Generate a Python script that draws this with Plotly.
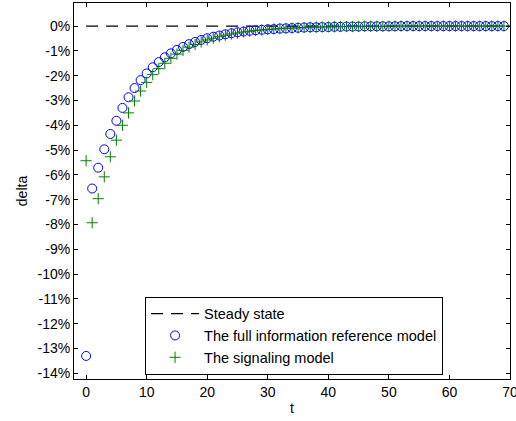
import plotly.graph_objects as go

t = list(range(70))

full_info = [-13.30, -6.55, -5.71, -4.97, -4.35, -3.82, -3.30, -2.87, -2.50, -2.18,
             -1.91, -1.66, -1.45, -1.26, -1.10, -0.96, -0.84, -0.73, -0.64, -0.56,
             -0.49, -0.43, -0.38, -0.33, -0.29, -0.25, -0.22, -0.19, -0.17, -0.15,
             -0.13, -0.12, -0.10, -0.09, -0.08, -0.07, -0.06, -0.05, -0.05, -0.04,
             -0.04, -0.03, -0.03, -0.02, -0.02, -0.02, -0.01, -0.01, -0.01, -0.01,
             -0.01, -0.01, 0.00, 0.00, 0.00, 0.00, 0.00, 0.00, 0.00, 0.00,
             0.00, 0.00, 0.00, 0.00, 0.00, 0.00, 0.00, 0.00, 0.00, 0.00]

signaling = [-5.43, -7.93, -6.96, -6.08, -5.27, -4.60, -4.00, -3.50, -3.02, -2.62,
             -2.27, -1.96, -1.72, -1.50, -1.30, -1.13, -0.98, -0.85, -0.74, -0.64,
             -0.56, -0.49, -0.43, -0.37, -0.32, -0.28, -0.24, -0.21, -0.18, -0.16,
             -0.14, -0.12, -0.10, -0.09, -0.08, -0.07, -0.06, -0.05, -0.04, -0.04,
             -0.03, -0.03, -0.02, -0.02, -0.02, -0.01, -0.01, -0.01, -0.01, -0.01,
             0.00, 0.00, 0.00, 0.00, 0.00, 0.00, 0.00, 0.00, 0.00, 0.00,
             0.00, 0.00, 0.00, 0.00, 0.00, 0.00, 0.00, 0.00, 0.00, 0.00]

steady_t = [0, 70]
steady = [0, 0]

y_tickvals = [0, -1, -2, -3, -4, -5, -6, -7, -8, -9, -10, -11, -12, -13, -14]
y_ticktext = ["0%", "-1%", "-2%", "-3%", "-4%", "-5%", "-6%", "-7%", "-8%", "-9%",
              "-10%", "-11%", "-12%", "-13%", "-14%"]
x_tickvals = [0, 10, 20, 30, 40, 50, 60, 70]

FONT = "Liberation Sans, Arial, sans-serif"

fig = go.Figure()
fig.add_trace(go.Scatter(x=steady_t, y=steady, mode="lines", name="Steady state",
                         line=dict(color="black", width=1.3, dash="12px,8px")))
fig.add_trace(go.Scatter(x=t, y=full_info, mode="markers",
                         name="The full information reference model",
                         marker=dict(symbol="circle-open", size=9, color="#0000ff",
                                     line=dict(width=1, color="#0000ff"))))
fig.add_trace(go.Scatter(x=t, y=signaling, mode="markers",
                         name="The signaling model",
                         marker=dict(symbol="cross-thin-open", size=8, color="#008000",
                                     line=dict(width=1, color="#008000"))))

axis_common = dict(showline=True, linecolor="black", linewidth=1, mirror="ticks",
                   ticks="inside", ticklen=4, tickcolor="black", showgrid=False,
                   zeroline=False, ticklabeloverflow="allow", automargin=False,
                   tickfont=dict(family=FONT, size=14, color="black"))

fig.update_xaxes(range=[-2, 70], tickvals=x_tickvals,
                 title=dict(text="t", font=dict(family=FONT, size=14, color="black"), standoff=4),
                 **axis_common)
fig.update_yaxes(range=[-14.23, 0.93], tickvals=y_tickvals, ticktext=y_ticktext,
                 title=dict(text="delta", font=dict(family=FONT, size=14, color="black"), standoff=6),
                 **axis_common)

fig.update_layout(
    width=516, height=421,
    margin=dict(l=74, r=6, t=3, b=42, autoexpand=False),
    plot_bgcolor="white", paper_bgcolor="white",
    font=dict(family=FONT, size=14, color="black"),
    legend=dict(x=0.163, y=0.219, xanchor="left", yanchor="top",
                bordercolor="black", borderwidth=1, bgcolor="white",
                font=dict(family=FONT, size=14.5, color="black"),
                itemwidth=48, tracegroupgap=0),
    showlegend=True,
)

fig.write_html("out.html")
